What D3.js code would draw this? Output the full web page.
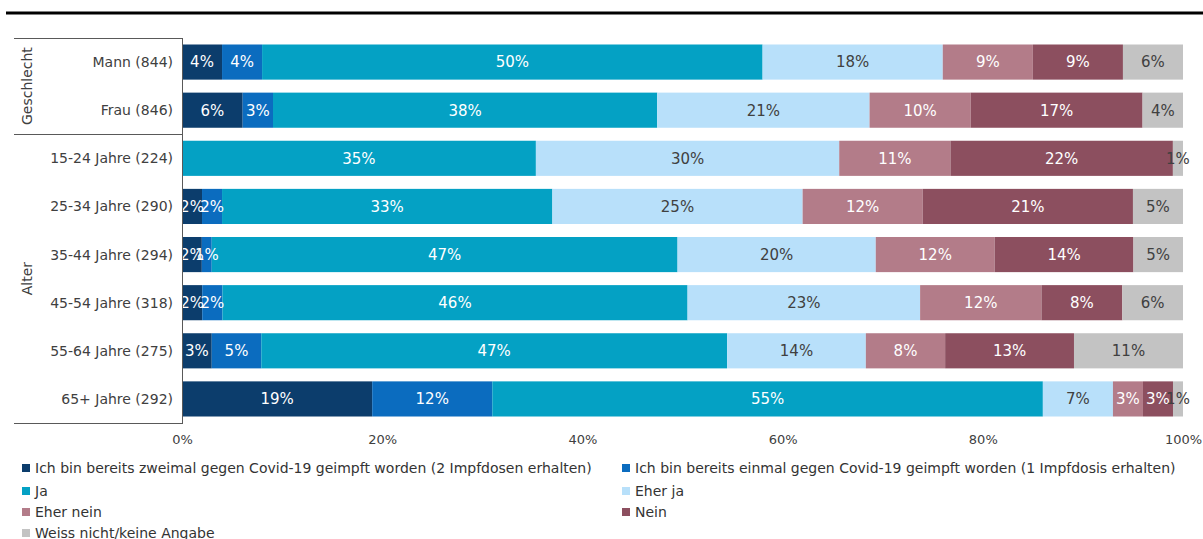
<!DOCTYPE html>
<html>
<head>
<meta charset="utf-8">
<script src="https://cdn.jsdelivr.net/npm/d3@7"></script>
<style>
  html, body { margin: 0; padding: 0; background: #fff; }
  svg { display: block; font-family: "DejaVu Sans", Verdana, sans-serif; }
</style>
</head>
<body>
<svg id="chart" width="1203" height="539"></svg>
<script>
// Impfbereitschaft nach Geschlecht und Alter (Anteile in %)
const categories = [
  "Mann (844)", "Frau (846)",
  "15-24 Jahre (224)", "25-34 Jahre (290)", "35-44 Jahre (294)",
  "45-54 Jahre (318)", "55-64 Jahre (275)", "65+ Jahre (292)"
];
const groups = [
  { name: "Geschlecht", from: 0, to: 1 },
  { name: "Alter", from: 2, to: 7 }
];
const seriesNames = [
  "Ich bin bereits zweimal gegen Covid-19 geimpft worden (2 Impfdosen erhalten)",
  "Ich bin bereits einmal gegen Covid-19 geimpft worden (1 Impfdosis erhalten)",
  "Ja", "Eher ja", "Eher nein", "Nein", "Weiss nicht/keine Angabe"
];
const zweimal   = [4, 6, 0, 2, 2, 2, 3, 19];
const einmal    = [4, 3, 0, 2, 1, 2, 5, 12];
const ja        = [50, 38, 35, 33, 47, 46, 47, 55];
const eherJa    = [18, 21, 30, 25, 20, 23, 14, 7];
const eherNein  = [9, 10, 11, 12, 12, 12, 8, 3];
const nein      = [9, 17, 22, 21, 14, 8, 13, 3];
const weissNich = [6, 4, 1, 5, 5, 6, 11, 1];
const tickValues = [0, 0.2, 0.4, 0.6, 0.8, 1];

const colors = ["#0c3d6c", "#0b6cbf", "#04a1c4", "#b8e0fa", "#b37c89", "#8c4f5f", "#c3c3c3"];
const labelColors = ["#fff", "#fff", "#fff", "#404040", "#fff", "#fff", "#404040"];

const seriesValues = [zweimal, einmal, ja, eherJa, eherNein, nein, weissNich];
const rows = categories.map((c, i) => {
  const r = { cat: c };
  seriesNames.forEach((s, k) => { r[s] = seriesValues[k][i]; });
  return r;
});

const svg = d3.select("#chart");

// Kopflinie
svg.append("line")
  .attr("x1", 6).attr("x2", 1203).attr("y1", 13).attr("y2", 13)
  .attr("stroke", "#000").attr("stroke-width", 3);

const x = d3.scaleLinear().domain([0, 1]).range([182, 1183]);
const y = d3.scaleBand().domain(categories).range([38, 423])
  .paddingInner(0.27).paddingOuter(0.135);

const stack = d3.stack().keys(seriesNames).offset(d3.stackOffsetExpand);
const layers = stack(rows);

const layerG = svg.append("g").selectAll("g").data(layers).join("g")
  .attr("fill", (d, i) => colors[i]);

layerG.selectAll("rect").data(d => d).join("rect")
  .attr("x", d => x(d[0]))
  .attr("y", d => y(d.data.cat))
  .attr("width", d => Math.max(0, x(d[1]) - x(d[0])))
  .attr("height", y.bandwidth());

// Werte-Beschriftungen
const labelG = svg.append("g").attr("font-size", 15).attr("text-anchor", "middle");
layers.forEach((layer, i) => {
  labelG.append("g").attr("fill", labelColors[i])
    .selectAll("text").data(layer.filter(d => d.data[layer.key] > 0)).join("text")
      .attr("x", d => (x(d[0]) + x(d[1])) / 2)
      .attr("y", d => y(d.data.cat) + y.bandwidth() / 2)
      .attr("dy", "0.36em")
      .text(d => d.data[layer.key] + "%");
});

// Kategorienachse
const frameColor = "#595959";
categories.forEach(c => {
  svg.append("text")
    .attr("x", 173).attr("y", y(c) + y.bandwidth() / 2).attr("dy", "0.36em")
    .attr("text-anchor", "end").attr("font-size", 14).attr("fill", "#404040")
    .text(c);
});
svg.append("line").attr("x1", 182.5).attr("x2", 182.5).attr("y1", 38).attr("y2", 424)
  .attr("stroke", frameColor).attr("stroke-width", 1);
const step = y.step();
const bounds = [38, y(categories[2]) - (step - y.bandwidth()) / 2, 423];
bounds.forEach(b => {
  svg.append("line").attr("x1", 14).attr("x2", 182).attr("y1", Math.round(b) + 0.5).attr("y2", Math.round(b) + 0.5)
    .attr("stroke", frameColor).attr("stroke-width", 1);
});
groups.forEach(g => {
  const top = y(categories[g.from]) - (step - y.bandwidth()) / 2;
  const bot = y(categories[g.to]) + y.bandwidth() + (step - y.bandwidth()) / 2;
  const cy = (top + bot) / 2;
  svg.append("text")
    .attr("transform", `translate(27,${cy}) rotate(-90)`)
    .attr("dy", "0.36em").attr("text-anchor", "middle")
    .attr("font-size", 14).attr("fill", "#404040")
    .text(g.name);
});

// Prozentachse
const xAxis = svg.append("g").attr("transform", "translate(0,423)")
  .call(d3.axisBottom(x).tickValues(tickValues).tickFormat(d3.format(".0%")).tickSize(0).tickPadding(12));
xAxis.select(".domain").remove();
xAxis.selectAll("text").attr("font-size", 13).attr("fill", "#404040")
  .attr("font-family", "\"DejaVu Sans\", Verdana, sans-serif");

// Legende
const legendPos = [
  [22, 468], [622, 468],
  [22, 491], [622, 491],
  [22, 512], [622, 512],
  [22, 533]
];
seriesNames.forEach((s, i) => {
  const [lx, ly] = legendPos[i];
  const g = svg.append("g").attr("transform", `translate(${lx},${ly})`);
  g.append("rect").attr("x", 0).attr("y", -4).attr("width", 8).attr("height", 8).attr("fill", colors[i]);
  g.append("text").attr("x", 13).attr("dy", "0.36em").attr("font-size", 14).attr("fill", "#333")
    .text(s);
});
</script>
</body>
</html>
